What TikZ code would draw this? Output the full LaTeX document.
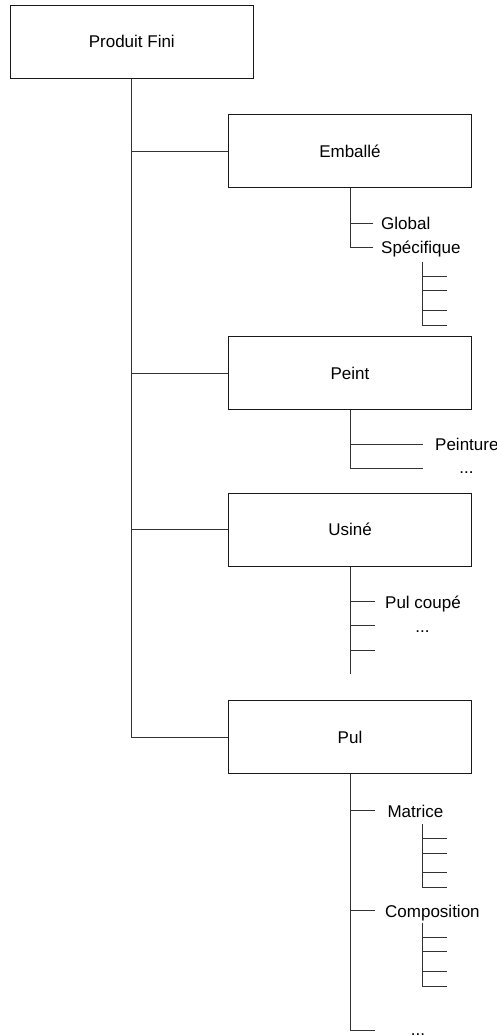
\documentclass[tikz,border=0pt]{standalone}
\usepackage{fontspec}
\setmainfont{Liberation Sans}
\begin{document}
\begin{tikzpicture}[x=1pt,y=-1pt,
  font=\fontsize{17}{20}\selectfont,
  box/.style={draw=black!90, line width=0.9pt, rectangle, minimum width=242.6pt, minimum height=73pt, inner sep=0pt},
  conn/.style={draw=black!80, line width=0.9pt},
  leaf/.style={anchor=base west, inner sep=0pt},
  dots/.style={anchor=base, inner sep=0pt}]
\useasboundingbox (0,0) rectangle (497,1035);
\fill[white] (0,0) rectangle (497,1035);

% main boxes
\node[box, minimum width=243pt, minimum height=73.3pt] (pf) at (131.8,41.7) {Produit Fini};
\node[box] (emb) at (350,151.2) {Emballé};
\node[box] (peint) at (350,373) {Peint};
\node[box] (usine) at (350,529.8) {Usiné};
\node[box] (pul) at (350,737.3) {Pul};

% main trunk
\draw[conn] (pf.south) |- (pul.west);
\foreach \b in {emb,peint,usine} \draw[conn] (pf.south |- \b.west) -- (\b.west);

% Emballé
\coordinate (eG) at (373,223.3);
\coordinate (eS) at (373,247.3);
\draw[conn] (emb.south) |- (eS);
\draw[conn] (emb.south |- eG) -- (eG);
\node[leaf] (glob) at (381,229.5) {Global};
\node[leaf] (spec) at (381,253.5) {Spécifique};
\coordinate (sT) at (422.7,261.7);
\foreach \y [count=\i] in {276,290.7,310.3,325} \coordinate (s\i) at (447,\y);
\draw[conn] (sT) |- (s4);
\foreach \i in {1,2,3} \draw[conn] (sT |- s\i) -- (s\i);

% Peint
\coordinate (p1) at (423.3,444.3);
\coordinate (p2) at (423.3,468.7);
\draw[conn] (peint.south) |- (p2);
\draw[conn] (peint.south |- p1) -- (p1);
\node[leaf] (peinture) at (435,450.5) {Peinture};
\node[dots] (pdots) at (466.5,473.5) {...};

% Usiné
\coordinate (uE) at (350,674.3);
\foreach \y [count=\i] in {601.7,625.7,650} \coordinate (u\i) at (374.7,\y);
\draw[conn] (usine.south) -- (uE);
\foreach \i in {1,2,3} \draw[conn] (usine.south |- u\i) -- (u\i);
\node[leaf] (pulc) at (385,608.5) {Pul coupé};
\node[dots] (udots) at (422.5,632.5) {...};

% Pul
\coordinate (m1) at (375,810.7);
\coordinate (m2) at (375,910.7);
\coordinate (m3) at (375,1030);
\draw[conn] (pul.south) |- (m3);
\draw[conn] (pul.south |- m1) -- (m1);
\draw[conn] (pul.south |- m2) -- (m2);
\node[leaf] (matrice) at (387.3,817) {Matrice};
\node[leaf] (compo) at (385,917) {Composition};
\node[dots] (bdots) at (418,1035.3) {...};

% Matrice sub
\coordinate (mT) at (422.7,824);
\foreach \y [count=\i] in {838.3,853.3,872.7,887.3} \coordinate (mm\i) at (447.3,\y);
\draw[conn] (mT) |- (mm4);
\foreach \i in {1,2,3} \draw[conn] (mT |- mm\i) -- (mm\i);

% Composition sub
\coordinate (cT) at (422.7,923.3);
\foreach \y [count=\i] in {937.3,951.7,971.7,986} \coordinate (cc\i) at (447.3,\y);
\draw[conn] (cT) |- (cc4);
\foreach \i in {1,2,3} \draw[conn] (cT |- cc\i) -- (cc\i);
\end{tikzpicture}
\end{document}
